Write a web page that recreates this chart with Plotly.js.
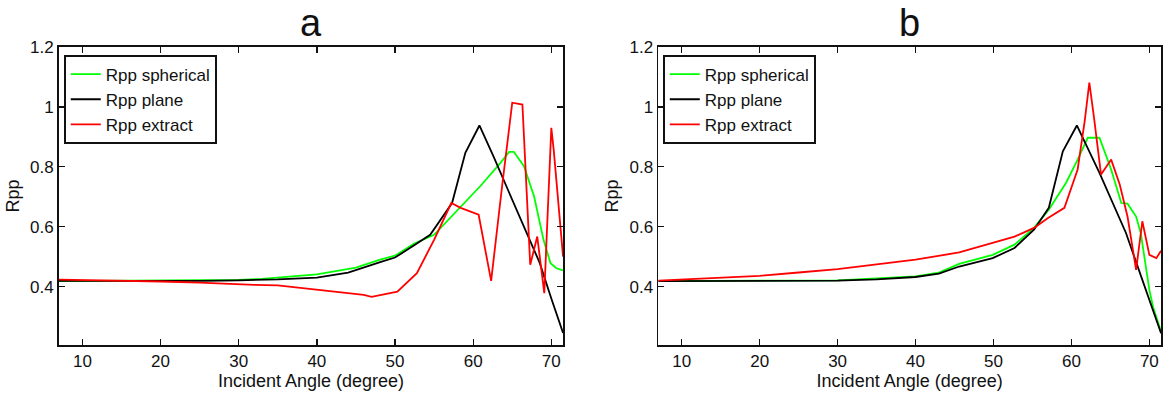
<!DOCTYPE html>
<html>
<head>
<meta charset="utf-8">
<script src="https://cdn.plot.ly/plotly-3.0.1.min.js"></script>
<style>
  html, body { margin: 0; padding: 0; background: #fff; }
  #chart { width: 1165px; height: 397px; }
</style>
</head>
<body>
<div id="chart"></div>
<script>
// Panel a: reflection coefficient Rpp versus incident angle
const angleA_spherical = [7, 20, 30, 33, 35, 40, 45, 48.1, 50, 52.4, 55, 58, 60.9, 63.5, 64.6, 65.2, 66.5, 67.8, 69.0, 69.9, 70.6, 71.5];
const rppA_spherical   = [0.418, 0.419, 0.422, 0.426, 0.43, 0.441, 0.463, 0.49, 0.503, 0.543, 0.573, 0.657, 0.735, 0.813, 0.85, 0.85, 0.802, 0.701, 0.556, 0.478, 0.462, 0.454];

const angleA_plane = [7, 15, 20, 25, 30, 35, 40, 44, 48.1, 50, 52.4, 54.5, 57.3, 59.0, 60.8, 62.6, 64.5, 66.5, 68.5, 70, 71.5];
const rppA_plane   = [0.419, 0.419, 0.418, 0.419, 0.421, 0.424, 0.43, 0.447, 0.482, 0.497, 0.537, 0.573, 0.679, 0.847, 0.938, 0.835, 0.72, 0.601, 0.48, 0.36, 0.245];

const angleA_extract = [7, 10, 15, 20, 25, 28, 32, 35, 38, 40, 42, 44, 46, 47, 48.1, 50.3, 52.8, 55.0, 57.2, 58.4, 60.7, 62.3, 63.7, 65.0, 66.3, 67.3, 68.2, 69.1, 70.0, 70.3, 71.5];
const rppA_extract   = [0.423, 0.422, 0.42, 0.417, 0.413, 0.409, 0.406, 0.404, 0.395, 0.39, 0.385, 0.377, 0.372, 0.366, 0.372, 0.383, 0.445, 0.556, 0.679, 0.663, 0.64, 0.419, 0.735, 1.014, 1.008, 0.473, 0.567, 0.378, 0.93, 0.858, 0.5];

// Panel b
const angleB_spherical = [7, 20, 30, 40, 43, 45.6, 49.9, 52.7, 55.2, 57.1, 59.3, 60.8, 62.1, 63.6, 65.1, 66.4, 67.2, 68.3, 68.9, 70.0, 70.5, 71.5];
const rppB_spherical   = [0.418, 0.419, 0.421, 0.434, 0.447, 0.476, 0.506, 0.54, 0.596, 0.657, 0.746, 0.824, 0.897, 0.897, 0.791, 0.679, 0.677, 0.634, 0.579, 0.389, 0.33, 0.25];

const angleB_plane = [7, 15, 20, 25, 30, 35, 40, 43, 45.6, 49.9, 52.7, 55.2, 57.1, 58.9, 60.7, 63.6, 67.0, 69.0, 71.5];
const rppB_plane   = [0.418, 0.418, 0.418, 0.419, 0.42, 0.424, 0.432, 0.443, 0.467, 0.495, 0.529, 0.59, 0.663, 0.852, 0.938, 0.78, 0.579, 0.43, 0.244];

const angleB_extract = [7, 10, 15, 20, 25, 30, 35, 40, 45.6, 49.9, 52.7, 55.2, 57.0, 59.1, 60.8, 61.7, 62.3, 62.9, 63.8, 65.1, 66.2, 67.2, 68.3, 69.1, 70.0, 70.9, 71.5];
const rppB_extract   = [0.42, 0.424, 0.43, 0.436, 0.447, 0.458, 0.474, 0.49, 0.514, 0.547, 0.567, 0.596, 0.629, 0.663, 0.791, 0.952, 1.081, 0.964, 0.774, 0.824, 0.741, 0.634, 0.456, 0.618, 0.506, 0.495, 0.52];

const seriesNames = ['Rpp spherical', 'Rpp plane', 'Rpp extract'];
const seriesColors = ['#00ff00', '#000000', '#ff0000'];
const panelTitles = ['a', 'b'];
const xTitle = 'Incident Angle (degree)';
const yTitle = 'Rpp';

const FONT = 'Liberation Sans, Arial, sans-serif';

function line(x, y, i, xa, ya, leg) {
  return {
    x: x, y: y, type: 'scatter', mode: 'lines',
    name: seriesNames[i], xaxis: xa, yaxis: ya, legend: leg,
    line: { color: seriesColors[i], width: 1.8 },
    hoverinfo: 'x+y'
  };
}

const traces = [
  line(angleA_spherical, rppA_spherical, 0, 'x', 'y', 'legend'),
  line(angleA_plane, rppA_plane, 1, 'x', 'y', 'legend'),
  line(angleA_extract, rppA_extract, 2, 'x', 'y', 'legend'),
  line(angleB_spherical, rppB_spherical, 0, 'x2', 'y2', 'legend2'),
  line(angleB_plane, rppB_plane, 1, 'x2', 'y2', 'legend2'),
  line(angleB_extract, rppB_extract, 2, 'x2', 'y2', 'legend2')
];

function xAxis(domain, anchor) {
  return {
    domain: domain, anchor: anchor,
    range: [7, 71.5], tickvals: [10, 20, 30, 40, 50, 60, 70],
    ticks: 'inside', ticklen: 6, tickwidth: 1.3, tickcolor: '#111',
    showline: true, linecolor: '#111', linewidth: 1.8, mirror: 'ticks',
    showgrid: false, zeroline: false,
    tickfont: { family: FONT, size: 17, color: '#111' },
    title: { text: xTitle, font: { family: FONT, size: 18, color: '#111' }, standoff: 4 }
  };
}
function yAxis(domain, anchor) {
  return {
    domain: domain, anchor: anchor,
    range: [0.205, 1.2], tickvals: [0.4, 0.6, 0.8, 1.0, 1.2],
    ticks: 'inside', ticklen: 6, tickwidth: 1.3, tickcolor: '#111',
    showline: true, linecolor: '#111', linewidth: 1.8, mirror: 'ticks',
    showgrid: false, zeroline: false,
    tickfont: { family: FONT, size: 17, color: '#111' },
    title: { text: yTitle, font: { family: FONT, size: 18, color: '#111' }, standoff: 6 }
  };
}
function legendBox(x) {
  return {
    x: x, y: 0.862, xref: 'paper', yref: 'paper', xanchor: 'left', yanchor: 'top',
    bgcolor: '#ffffff', bordercolor: '#111', borderwidth: 1.8,
    font: { family: FONT, size: 17, color: '#111' },
    itemwidth: 30, traceorder: 'normal'
  };
}

const layout = {
  width: 1165, height: 397,
  margin: { l: 0, r: 0, t: 0, b: 0 },
  paper_bgcolor: '#fff', plot_bgcolor: '#fff',
  showlegend: true,
  xaxis: xAxis([0.0506, 0.4833], 'y'),
  yaxis: yAxis([0.131, 0.8816], 'x'),
  xaxis2: xAxis([0.5651, 0.9966], 'y2'),
  yaxis2: yAxis([0.131, 0.8816], 'x2'),
  legend: legendBox(0.0549),
  legend2: legendBox(0.5691),
  annotations: [
    { text: panelTitles[0], xref: 'x domain', yref: 'paper', x: 0.5, y: 1.0, yanchor: 'top', yshift: 0,
      showarrow: false, font: { family: FONT, size: 38, color: '#111' } },
    { text: panelTitles[1], xref: 'x2 domain', yref: 'paper', x: 0.5, y: 1.0, yanchor: 'top', yshift: 0,
      showarrow: false, font: { family: FONT, size: 38, color: '#111' } }
  ]
};

Plotly.newPlot('chart', traces, layout, { displayModeBar: false, staticPlot: true });
</script>
</body>
</html>
